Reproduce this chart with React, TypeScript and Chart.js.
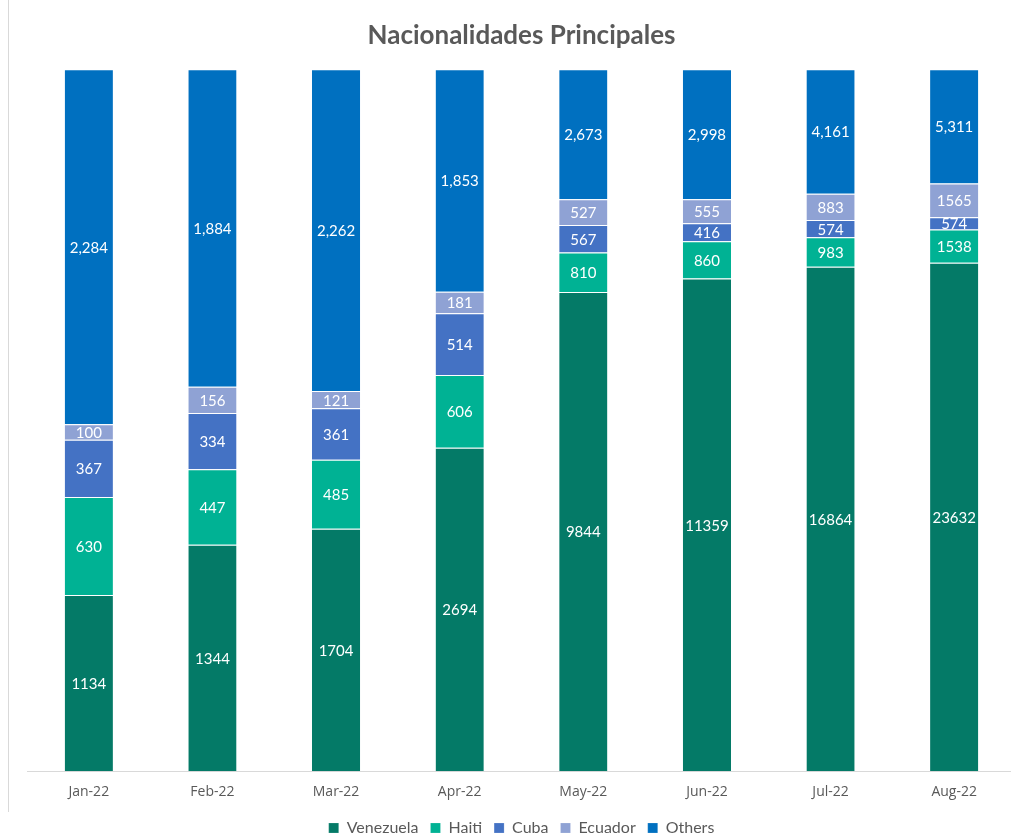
import React, { useEffect, useRef } from "react";
import { Chart, registerables } from "chart.js";

Chart.register(...registerables);

const categories = ["Jan-22", "Feb-22", "Mar-22", "Apr-22", "May-22", "Jun-22", "Jul-22", "Aug-22"];
const venezuela = [1134, 1344, 1704, 2694, 9844, 11359, 16864, 23632];
const haiti = [630, 447, 485, 606, 810, 860, 983, 1538];
const cuba = [367, 334, 361, 514, 567, 416, 574, 574];
const ecuador = [100, 156, 121, 181, 527, 555, 883, 1565];
const others = [2284, 1884, 2262, 1853, 2673, 2998, 4161, 5311];

const seriesNames = ["Venezuela", "Haiti", "Cuba", "Ecuador", "Others"];
const seriesValues = [venezuela, haiti, cuba, ecuador, others];
const seriesColors = ["#047a67", "#00b294", "#4472c4", "#8fa2d4", "#0070c0"];
const useThousands = [false, false, false, false, true];

const totals = categories.map((_, i) => seriesValues.reduce((s, arr) => s + arr[i], 0));

const labelPlugin = {
  id: "segLabels",
  afterDatasetsDraw(chart: any) {
    const ctx = chart.ctx;
    ctx.save();
    ctx.fillStyle = "#ffffff";
    ctx.font = "15px Lato, 'Open Sans', sans-serif";
    ctx.textAlign = "center";
    ctx.textBaseline = "middle";
    chart.data.datasets.forEach((ds: any, di: number) => {
      const meta = chart.getDatasetMeta(di);
      meta.data.forEach((bar: any, i: number) => {
        const raw = ds.rawValues[i];
        const txt = ds.thousands ? raw.toLocaleString("en-US") : String(raw);
        const y = (bar.y + bar.base) / 2;
        ctx.fillText(txt, bar.x, y + 1);
      });
    });
    ctx.restore();
  },
};

export default function App() {
  const ref = useRef<HTMLCanvasElement>(null);
  useEffect(() => {
    if (!ref.current) return;
    const chart = new Chart(ref.current, {
      type: "bar",
      data: {
        labels: categories,
        datasets: seriesNames.map((name, si) => ({
          label: name,
          data: seriesValues[si].map((v, i) => (v / totals[i]) * 100),
          rawValues: seriesValues[si],
          thousands: useThousands[si],
          backgroundColor: seriesColors[si],
          borderColor: "rgba(255,255,255,0.7)",
          borderWidth: { top: 1, bottom: 0, left: 0, right: 0 },
          borderSkipped: false,
          categoryPercentage: 1,
          barPercentage: 0.39,
        })) as any,
      },
      options: {
        animation: false,
        responsive: false,
        maintainAspectRatio: false,
        layout: { padding: { left: 27, right: 0, top: 14, bottom: 0 } },
        plugins: {
          title: {
            display: true,
            text: "Nacionalidades Principales",
            color: "#595959",
            font: { family: "Lato, 'Open Sans', sans-serif", size: 26, weight: "bold" },
            padding: { top: 6, bottom: 18 },
          },
          legend: {
            position: "bottom",
            labels: {
              color: "#595959",
              font: { family: "Lato, 'Open Sans', sans-serif", size: 16 },
              usePointStyle: true,
              pointStyle: "rect",
              boxWidth: 10,
              boxHeight: 10,
              padding: 12,
            },
          },
          tooltip: { enabled: false },
        },
        scales: {
          x: {
            stacked: true,
            grid: { display: false },
            border: { display: true, color: "#d9d9d9" },
            ticks: {
              color: "#595959",
              font: { family: "'Open Sans', sans-serif", size: 14 },
              padding: 4,
            },
            afterFit: (scale: any) => {
              scale.height += 4;
            },
          },
          y: {
            stacked: true,
            display: false,
            min: 0,
            max: 100,
          },
        },
      },
      plugins: [labelPlugin],
    });
    return () => chart.destroy();
  }, []);
  return (
    <div style={{ position: "fixed", left: 0, top: 0, width: 1011, height: 834, overflow: "hidden", background: "#fff" }}>
      <div style={{ position: "absolute", left: 8, top: 0, width: 1, height: 812, background: "#d9d9d9" }} />
      <canvas ref={ref} width={1016} height={846} style={{ position: "absolute", left: 0, top: 0, width: 1016, height: 846 }} />
    </div>
  );
}
